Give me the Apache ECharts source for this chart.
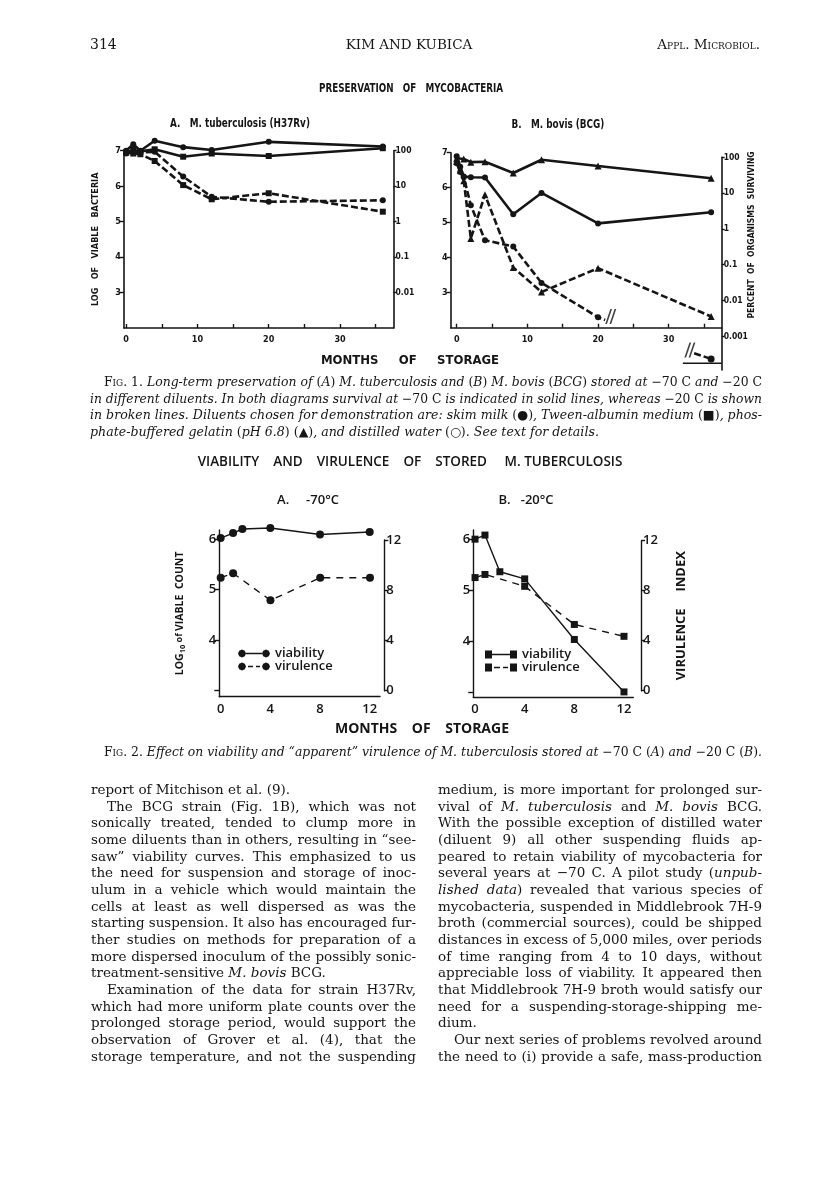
<!DOCTYPE html>
<html><head><meta charset="utf-8">
<script src="https://cdn.jsdelivr.net/npm/echarts@6/dist/echarts.min.js"></script>
<style>
html,body{margin:0;padding:0;background:#fff;}
#page{position:relative;width:816px;height:1202px;overflow:hidden;background:#fff;}
#chart{position:absolute;left:0;top:0;width:816px;height:1202px;}
.ln{position:absolute;white-space:nowrap;font-family:"DejaVu Serif","Liberation Serif",serif;color:#151515;line-height:16px;font-size:13.5px;}
.cap{font-size:12.6px;font-style:italic;}
.sc{font-variant:small-caps;font-style:normal;}
.rm{font-style:normal;}
</style></head>
<body><div id="page"><div id="chart"></div><div id="txt"></div></div>
<script>
// ---------------- DATA ----------------
// Fig 1A  M. tuberculosis (H37Rv): months vs log viable bacteria
const f1aMonths      = [0, 1, 2, 4, 8, 12, 20, 36];
const f1aSolidMilk   = [7.0, 7.18, 7.0, 7.28, 7.1, 7.02, 7.25, 7.12];
const f1aSolidTween  = [6.95, 7.02, 6.98, 7.04, 6.83, 6.92, 6.85, 7.07];
const f1aDashTween   = [6.95, 6.92, 6.9, 6.71, 6.03, 5.63, 5.8, 5.28];
const f1aDashMilk    = [6.92, 6.98, 6.95, 6.97, 6.27, 5.7, 5.56, 5.6];
// Fig 1B  M. bovis (BCG)
const f1bMonths1     = [0, 1, 2, 4, 8, 12, 20, 36];
const f1bSolidGel    = [6.84, 6.82, 6.73, 6.74, 6.42, 6.8, 6.62, 6.27];
const f1bMonths2     = [0, 0.5, 1, 2, 4, 8, 12, 20, 36];
const f1bSolidMilk   = [6.9, 6.6, 6.32, 6.3, 6.29, 5.24, 5.85, 4.98, 5.3];
const f1bMonths3     = [0, 0.5, 1, 2, 4, 8, 12, 20, 36];
const f1bDashGel     = [6.75, 6.5, 6.2, 4.55, 5.8, 3.72, 3.02, 3.7, 2.32];
const f1bMonths4     = [0, 0.5, 1, 2, 4, 8, 12, 20, 21];
const f1bDashWater   = [6.7, 6.45, 6.3, 5.5, 4.5, 4.32, 3.28, 2.3, 2.22];
const f1bBreakMain   = [[21.8, 2.32]];
// off-scale continuation (percent surviving, log10) shown below the axis
const f1bInsetMonths = [33.6, 36];
const f1bInsetLogPct = [-3.47, -3.63];
const f1bInsetBreak  = [[33.0, -3.38]];
const f1bInsetBase   = [[32, -3.75], [37.5, -3.75]];
// axis ticks / labels
const f1MonthTicks   = [0, 5, 10, 15, 20, 25, 30, 35];
const f1MonthLabels  = [0, 10, 20, 30];
const f1LogTicks     = [3, 4, 5, 6, 7];
const f1aPctLabels   = ['0.01', '0.1', '1', '10', '100'];
const f1bPctTicks    = [-3, -2, -1, 0, 1, 2];
const f1bPctLabels   = ['0.001', '0.01', '0.1', '1', '10', '100'];
// Fig 2A  -70 C
const f2aVbMonths    = [0, 1, 1.75, 4, 8, 12];
const f2aViability   = [6.02, 6.12, 6.2, 6.22, 6.09, 6.14];
const f2aVrMonths    = [0, 1, 4, 8, 12];
const f2aVirulence   = [9.0, 9.35, 7.2, 9.0, 9.0];
// Fig 2B  -20 C
const f2bVbMonths    = [0, 0.8, 2, 4, 8, 12];
const f2bViability   = [6.0, 6.08, 5.36, 5.22, 4.03, 3.0];
const f2bVrMonths    = [0, 0.8, 4, 8, 12];
const f2bVirulence   = [9.05, 9.3, 8.35, 5.3, 4.35];
const f2MonthLabels  = [0, 4, 8, 12];
const f2LogTicks     = [3, 4, 5, 6];
const f2LogLabels    = [4, 5, 6];
const f2IndexTicks   = [0, 4, 8, 12];

// ---------------- STYLE ----------------
const INK = '#151515';
const F1 = '"Liberation Sans Narrow","DejaVu Sans Condensed","Roboto Condensed","Liberation Sans",sans-serif';
const F2 = '"Open Sans","DejaVu Sans",sans-serif';
const zip = (xs, ys) => xs.map((x, i) => [x, ys[i]]);

function s1(name, xi, yi, xs, ys, sym, dashed) {
  return {type:'line', name, xAxisIndex:xi, yAxisIndex:yi, data:zip(xs, ys), clip:false,
    symbol:sym, symbolSize: sym === 'triangle' ? 7 : 6, showSymbol:true,
    itemStyle:{color:INK}, lineStyle:{color:INK, width:2.6, type: dashed ? [7,3] : 'solid'}, z:3};
}
function s2(name, xi, yi, xs, ys, sym, dashed) {
  return {type:'line', name, xAxisIndex:xi, yAxisIndex:yi, data:zip(xs, ys), clip:false,
    symbol:sym, symbolSize: sym === 'rect' ? 7 : 8,
    itemStyle:{color:INK}, lineStyle:{color:INK, width:1.4, type: dashed ? [7,6] : 'solid'}, z:3};
}
const f1Label = {color:INK, fontFamily:F1, fontWeight:'bold', fontSize:9};
const f2Label = {color:INK, fontFamily:F2, fontWeight:600, fontSize:13};
const axLine = w => ({show:true, onZero:false, lineStyle:{color:INK, width:w}});

function f1x(grid, min, show) {
  return {type:'value', gridIndex:grid, min, max:37.5, show, splitLine:{show:false},
    axisLine:axLine(1.6),
    axisTick:{show:true, inside:true, length:4, customValues:f1MonthTicks, lineStyle:{color:INK, width:1.4}},
    axisLabel:Object.assign({show:true, margin:7, customValues:f1MonthLabels}, f1Label)};
}
function f2x(grid, min, max, show) {
  return {type:'value', gridIndex:grid, min, max, show, splitLine:{show:false},
    axisLine:axLine(1.4), axisTick:{show:false},
    axisLabel:Object.assign({show:true, margin:6, customValues:f2MonthLabels}, f2Label)};
}
const breakPath = 'path://M0,14 L6,0 L8,0 L2,14 Z M5,14 L11,0 L13,0 L7,14 Z';
const legCircSolid = 'path://M0,4 L1.2,1.2 L4,0 L6.8,1.2 L8,4 L6.8,6.8 L4,8 L1.2,6.8 Z M8,3.3 L24,3.3 L24,4.7 L8,4.7 Z M24,4 L25.2,1.2 L28,0 L30.8,1.2 L32,4 L30.8,6.8 L28,8 L25.2,6.8 Z';
const legCircDash  = 'path://M0,4 L1.2,1.2 L4,0 L6.8,1.2 L8,4 L6.8,6.8 L4,8 L1.2,6.8 Z M10,3.3 L15,3.3 L15,4.7 L10,4.7 Z M18,3.3 L22,3.3 L22,4.7 L18,4.7 Z M24,4 L25.2,1.2 L28,0 L30.8,1.2 L32,4 L30.8,6.8 L28,8 L25.2,6.8 Z';
const legRectSolid = 'path://M0,0 L7,0 L7,8 L0,8 Z M7,3.3 L25,3.3 L25,4.7 L7,4.7 Z M25,0 L32,0 L32,8 L25,8 Z';
const legRectDash  = 'path://M0,0 L7,0 L7,8 L0,8 Z M9,3.3 L15,3.3 L15,4.7 L9,4.7 Z M18,3.3 L23,3.3 L23,4.7 L18,4.7 Z M25,0 L32,0 L32,8 L25,8 Z';
const legText = {fontFamily:F2, fontWeight:600, fontSize:13, lineHeight:12, color:INK};

const option = {
  animation:false,
  backgroundColor:'#fff',
  grid:[
    {left:124,   top:150.7, width:269.5, height:177.3},
    {left:450.7, top:152.7, width:271,   height:175},
    {left:450.7, top:157.3, width:271,   height:212.7},
    {left:219.3, top:530,   width:160.7, height:166.7},
    {left:219.3, top:540,   width:165,   height:150.7},
    {left:473.3, top:530,   width:160,   height:167},
    {left:473.3, top:540.7, width:167.7, height:150}
  ],
  xAxis:[
    f1x(0, -0.3, true),
    f1x(1, -0.85, true),
    f1x(2, -0.85, false),
    f2x(3, -0.11, 12.83, true),
    f2x(4, -0.11, 13.15, false),
    f2x(5, -0.14, 12.75, true),
    f2x(6, -0.14, 13.37, false)
  ],
  yAxis:[
    {type:'value', gridIndex:0, position:'left', min:2, max:7, splitLine:{show:false}, axisLine:axLine(1.6),
     axisTick:{show:true, length:4, customValues:f1LogTicks, lineStyle:{color:INK, width:1.4}},
     axisLabel:Object.assign({margin:3, customValues:f1LogTicks}, f1Label),
     name:'LOG   OF   VIABLE   BACTERIA', nameLocation:'middle', nameGap:24, nameRotate:90,
     nameTextStyle:{color:INK, fontFamily:F1, fontWeight:'bold', fontSize:9}},
    {type:'value', gridIndex:0, position:'right', min:2, max:7, splitLine:{show:false}, axisLine:axLine(1.6),
     axisTick:{show:true, length:3, customValues:f1LogTicks, lineStyle:{color:INK, width:1.4}},
     axisLabel:Object.assign({margin:2, customValues:f1LogTicks,
       formatter:v => f1aPctLabels[f1LogTicks.indexOf(Math.round(v))]}, f1Label, {fontSize:8.5})},
    {type:'value', gridIndex:1, position:'left', min:2, max:7, splitLine:{show:false}, axisLine:axLine(1.6),
     axisTick:{show:true, length:4, customValues:f1LogTicks, lineStyle:{color:INK, width:1.4}},
     axisLabel:Object.assign({margin:3, customValues:f1LogTicks}, f1Label)},
    {type:'value', gridIndex:2, position:'right', min:-3.94, max:2, splitLine:{show:false}, axisLine:axLine(1.6),
     axisTick:{show:true, length:3, customValues:f1bPctTicks, lineStyle:{color:INK, width:1.4}},
     axisLabel:Object.assign({margin:2, customValues:f1bPctTicks,
       formatter:v => f1bPctLabels[f1bPctTicks.indexOf(Math.round(v))]}, f1Label, {fontSize:8.5})},
    {type:'value', gridIndex:3, position:'left', min:2.88, max:6.18, splitLine:{show:false}, axisLine:axLine(1.4),
     axisTick:{show:true, length:5, customValues:f2LogTicks, lineStyle:{color:INK, width:1.4}},
     axisLabel:Object.assign({margin:3, customValues:f2LogLabels}, f2Label),
     name:'{a|LOG}{s|10}{b| of }{a|VIABLE  COUNT}', nameLocation:'middle', nameGap:32, nameRotate:90,
     nameTextStyle:{color:INK, rich:{
       a:{fontFamily:F2, fontWeight:700, fontSize:10.5, lineHeight:15, color:INK},
       s:{fontFamily:F2, fontWeight:700, fontSize:7.5, lineHeight:8, verticalAlign:'bottom', color:INK},
       b:{fontFamily:F2, fontWeight:700, fontSize:9, lineHeight:15, color:INK}}}},
    {type:'value', gridIndex:4, position:'right', min:0, max:12, splitLine:{show:false}, axisLine:axLine(1.4),
     axisTick:{show:true, length:4, customValues:f2IndexTicks, lineStyle:{color:INK, width:1.4}},
     axisLabel:Object.assign({margin:2, customValues:f2IndexTicks}, f2Label)},
    {type:'value', gridIndex:5, position:'left', min:2.9, max:6.18, splitLine:{show:false}, axisLine:axLine(1.4),
     axisTick:{show:true, length:5, customValues:f2LogTicks, lineStyle:{color:INK, width:1.4}},
     axisLabel:Object.assign({margin:3, customValues:f2LogLabels}, f2Label)},
    {type:'value', gridIndex:6, position:'right', min:0, max:12, splitLine:{show:false}, axisLine:axLine(1.4),
     axisTick:{show:true, length:4, customValues:f2IndexTicks, lineStyle:{color:INK, width:1.4}},
     axisLabel:Object.assign({margin:2, customValues:f2IndexTicks}, f2Label),
     name:'VIRULENCE     INDEX', nameLocation:'middle', nameGap:34, nameRotate:90,
     nameTextStyle:{color:INK, fontFamily:F2, fontWeight:700, fontSize:13}}
  ],
  legend:[
    {left:238, top:647, padding:0, orient:'vertical', itemGap:0, itemWidth:32, itemHeight:8, selectedMode:false,
     textStyle:legText,
     data:[{name:'viability', icon:legCircSolid}, {name:'virulence', icon:legCircDash}]},
    {left:485, top:648, padding:0, orient:'vertical', itemGap:0, itemWidth:32, itemHeight:8, selectedMode:false,
     textStyle:legText,
     data:[{name:'viability ', icon:legRectSolid}, {name:'virulence ', icon:legRectDash}]}
  ],
  series:[
    s1('1A milk -70', 0, 0, f1aMonths, f1aSolidMilk, 'circle', false),
    s1('1A tween -70', 0, 0, f1aMonths, f1aSolidTween, 'rect', false),
    s1('1A tween -20', 0, 0, f1aMonths, f1aDashTween, 'rect', true),
    s1('1A milk -20', 0, 0, f1aMonths, f1aDashMilk, 'circle', true),
    s1('1B gelatin -70', 1, 2, f1bMonths1, f1bSolidGel, 'triangle', false),
    s1('1B milk -70', 1, 2, f1bMonths2, f1bSolidMilk, 'circle', false),
    s1('1B gelatin -20', 1, 2, f1bMonths3, f1bDashGel, 'triangle', true),
    Object.assign(s1('1B water -20', 1, 2, f1bMonths4, f1bDashWater, 'circle', true),
      {symbol:(v, p) => p.dataIndex === f1bMonths4.length - 1 ? 'none' : 'circle'}),
    {type:'scatter', name:'break', xAxisIndex:1, yAxisIndex:2, data:f1bBreakMain, symbol:breakPath,
     symbolSize:[11,15], itemStyle:{color:INK}, clip:false, z:4},
    Object.assign(s1('1B water inset', 2, 3, f1bInsetMonths, f1bInsetLogPct, 'circle', true),
      {symbol:(v, p) => p.dataIndex === 0 ? 'none' : 'circle', symbolSize:7}),
    {type:'scatter', name:'break2', xAxisIndex:2, yAxisIndex:3, data:f1bInsetBreak, symbol:breakPath,
     symbolSize:[11,15], itemStyle:{color:INK}, clip:false, z:4},
    {type:'line', name:'inset base', xAxisIndex:2, yAxisIndex:3, data:f1bInsetBase, symbol:'none', clip:false,
     lineStyle:{color:INK, width:1.4}},
    s2('viability', 3, 4, f2aVbMonths, f2aViability, 'circle', false),
    s2('virulence', 4, 5, f2aVrMonths, f2aVirulence, 'circle', true),
    s2('viability ', 5, 6, f2bVbMonths, f2bViability, 'rect', false),
    s2('virulence ', 6, 7, f2bVrMonths, f2bVirulence, 'rect', true)
  ],
  graphic:[
    {type:'text', x:411, y:89, scaleX:0.85, style:{text:'PRESERVATION   OF   MYCOBACTERIA', font:'bold 11.5px '+F1, fill:INK, align:'center', verticalAlign:'middle'}},
    {type:'text', x:240, y:124, scaleX:0.82, style:{text:'A.   M. tuberculosis (H37Rv)', font:'bold 12px '+F1, fill:INK, align:'center', verticalAlign:'middle'}},
    {type:'text', x:558, y:125, scaleX:0.82, style:{text:'B.   M. bovis (BCG)', font:'bold 12px '+F1, fill:INK, align:'center', verticalAlign:'middle'}},
    {type:'text', x:410, y:361, style:{text:'MONTHS     OF     STORAGE', font:'bold 13px '+F1, fill:INK, align:'center', verticalAlign:'middle'}},
    {type:'text', x:752, y:235, rotation:Math.PI/2, style:{text:'PERCENT  OF  ORGANISMS  SURVIVING', font:'bold 8.5px '+F1, fill:INK, align:'center', verticalAlign:'middle'}},
    {type:'text', x:410, y:462, style:{text:'VIABILITY    AND    VIRULENCE    OF    STORED     M. TUBERCULOSIS', font:'600 13.5px '+F2, fill:INK, align:'center', verticalAlign:'middle'}},
    {type:'text', x:308, y:500, style:{text:'A.     -70°C', font:'600 13px '+F2, fill:INK, align:'center', verticalAlign:'middle'}},
    {type:'text', x:526, y:500, style:{text:'B.   -20°C', font:'600 13px '+F2, fill:INK, align:'center', verticalAlign:'middle'}},
    {type:'text', x:422, y:729, style:{text:'MONTHS    OF    STORAGE', font:'bold 14px '+F2, fill:INK, align:'center', verticalAlign:'middle'}}
  ]
};
echarts.init(document.getElementById('chart'), null, {renderer:'canvas'}).setOption(option);

// ---------------- PAGE TEXT ----------------
const headerLeft = '314', headerMid = 'KIM AND KUBICA', headerRight = 'Appl. Microbiol.';
const cap1 = [
  '<span class="sc">Fig. 1.</span> Long-term preservation of <span class="rm">(</span>A<span class="rm">)</span> M. tuberculosis and <span class="rm">(</span>B<span class="rm">)</span> M. bovis <span class="rm">(</span>BCG<span class="rm">)</span> stored at <span class="rm">−70 C</span> and <span class="rm">−20 C</span>',
  'in different diluents. In both diagrams survival at <span class="rm">−70 C</span> is indicated in solid lines, whereas <span class="rm">−20 C</span> is shown',
  'in broken lines. Diluents chosen for demonstration are: skim milk <span class="rm">(●)</span>, Tween-albumin medium <span class="rm">(■)</span>, phos-',
  'phate-buffered gelatin <span class="rm">(</span>pH 6.8<span class="rm">) (▲)</span>, and distilled water <span class="rm">(○)</span>. See text for details.'
];
const cap2 = '<span class="sc">Fig. 2.</span> Effect on viability and “apparent” virulence of M. tuberculosis stored at <span class="rm">−70 C (</span>A<span class="rm">)</span> and <span class="rm">−20 C (</span>B<span class="rm">)</span>.';
const colLeft = [
  ['report of Mitchison et al. (9).', 0, 0],
  ['The BCG strain (Fig. 1B), which was not', 1, 1],
  ['sonically treated, tended to clump more in', 0, 1],
  ['some diluents than in others, resulting in “see-', 0, 1],
  ['saw” viability curves. This emphasized to us', 0, 1],
  ['the need for suspension and storage of inoc-', 0, 1],
  ['ulum in a vehicle which would maintain the', 0, 1],
  ['cells at least as well dispersed as was the', 0, 1],
  ['starting suspension. It also has encouraged fur-', 0, 1],
  ['ther studies on methods for preparation of a', 0, 1],
  ['more dispersed inoculum of the possibly sonic-', 0, 1],
  ['treatment-sensitive <i>M. bovis</i> BCG.', 0, 0],
  ['Examination of the data for strain H37Rv,', 1, 1],
  ['which had more uniform plate counts over the', 0, 1],
  ['prolonged storage period, would support the', 0, 1],
  ['observation of Grover et al. (4), that the', 0, 1],
  ['storage temperature, and not the suspending', 0, 1]
];
const colRight = [
  ['medium, is more important for prolonged sur-', 0, 1],
  ['vival of <i>M. tuberculosis</i> and <i>M. bovis</i> BCG.', 0, 1],
  ['With the possible exception of distilled water', 0, 1],
  ['(diluent 9) all other suspending fluids ap-', 0, 1],
  ['peared to retain viability of mycobacteria for', 0, 1],
  ['several years at −70 C. A pilot study (<i>unpub-</i>', 0, 1],
  ['<i>lished data</i>) revealed that various species of', 0, 1],
  ['mycobacteria, suspended in Middlebrook 7H-9', 0, 1],
  ['broth (commercial sources), could be shipped', 0, 1],
  ['distances in excess of 5,000 miles, over periods', 0, 1],
  ['of time ranging from 4 to 10 days, without', 0, 1],
  ['appreciable loss of viability. It appeared then', 0, 1],
  ['that Middlebrook 7H-9 broth would satisfy our', 0, 1],
  ['need for a suspending-storage-shipping me-', 0, 1],
  ['dium.', 0, 0],
  ['Our next series of problems revolved around', 1, 1],
  ['the need to (i) provide a safe, mass-production', 0, 1]
];

const host = document.getElementById('txt');
const toFit = [];
function put(html, x, yc, cls, width, justify, extraStyle) {
  const el = document.createElement('span');
  el.className = 'ln ' + (cls || '');
  el.innerHTML = html;
  el.style.left = x + 'px';
  el.style.top = (yc - 8) + 'px';
  if (extraStyle) Object.assign(el.style, extraStyle);
  host.appendChild(el);
  if (width) toFit.push([el, width, justify]);
  return el;
}
put(headerLeft, 90, 44, '', 0, 0, {fontSize:'14px'});
const hm = put(headerMid, 0, 44, '', 0, 0, {fontSize:'13.5px'});
const hr = put(headerRight, 0, 44, 'sc', 0, 0, {fontSize:'13.5px'});
const CAPL = 90, CAPR = 762;
cap1.forEach((h, i) => {
  const ind = i === 0 ? 14 : 0;
  put(h, CAPL + ind, [382, 398.5, 415, 431.5][i], 'cap', CAPR - CAPL - ind, i < 3);
});
put(cap2, CAPL + 14, 752, 'cap', CAPR - CAPL - 14, 1);
const LH = 16.67, Y0 = 789, IND = 16;
colLeft.forEach(([h, ind, j], i) => put(h, 91 + (ind ? IND : 0), Y0 + i * LH, '', 325 - (ind ? IND : 0), j));
colRight.forEach(([h, ind, j], i) => put(h, 438 + (ind ? IND : 0), Y0 + i * LH, '', 324 - (ind ? IND : 0), j));

function fitAll() {
  toFit.forEach(([el, target, justify]) => {
    el.style.wordSpacing = '0px'; el.style.transform = '';
    const w = el.getBoundingClientRect().width;
    const n = (el.textContent.match(/ /g) || []).length;
    if (w > target) { el.style.transformOrigin = '0 50%'; el.style.transform = 'scaleX(' + (target / w) + ')'; }
    else if (justify && n > 0) el.style.wordSpacing = ((target - w) / n) + 'px';
  });
  hm.style.left = (409 - hm.getBoundingClientRect().width / 2) + 'px';
  hr.style.left = (760 - hr.getBoundingClientRect().width) + 'px';
}
fitAll();
if (document.fonts && document.fonts.ready) document.fonts.ready.then(fitAll);
</script></body></html>
